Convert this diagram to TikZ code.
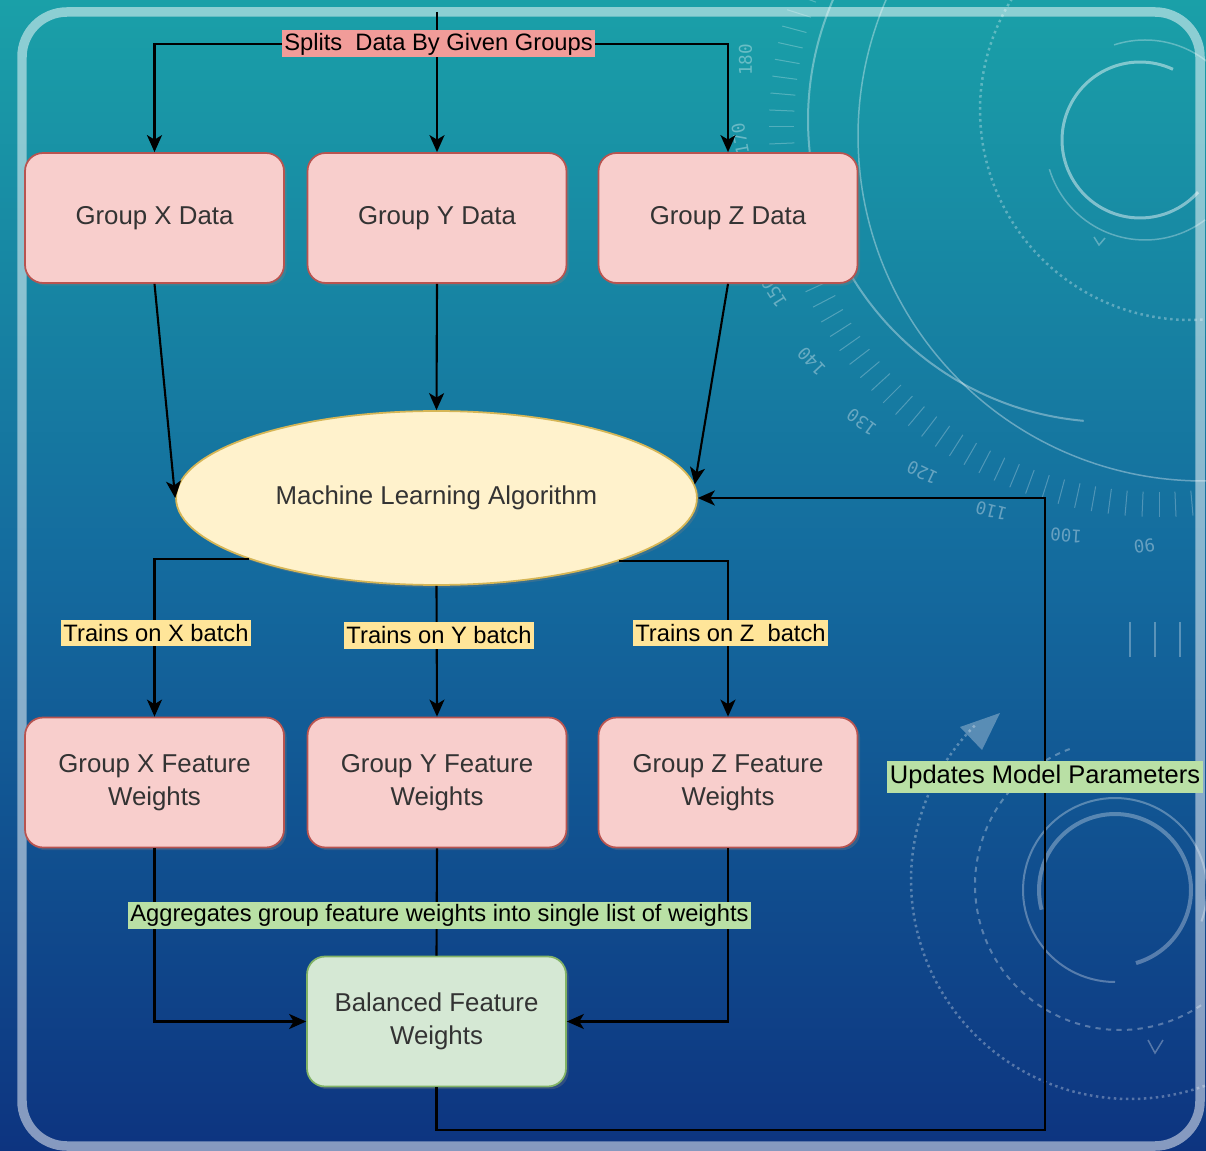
\documentclass[tikz,border=0pt]{standalone}
\usepackage{fontspec}
\setmainfont{Liberation Sans}
\newfontfamily\decofont{DejaVu Sans Mono}
\usetikzlibrary{arrows.meta,shapes.geometric,shadows}
\definecolor{pinkf}{HTML}{F8CECC}
\definecolor{pinkd}{HTML}{B85450}
\definecolor{yelf}{HTML}{FFF2CC}
\definecolor{yeld}{HTML}{D6B656}
\definecolor{grnf}{HTML}{D5E8D4}
\definecolor{grnd}{HTML}{82B366}
\definecolor{lblpink}{HTML}{F19C99}
\definecolor{lblyel}{HTML}{FFE599}
\definecolor{lblgrn}{HTML}{B9E0A5}
\definecolor{txt}{HTML}{333333}
\definecolor{bgtop}{RGB}{26,160,168}
\definecolor{bgmid}{RGB}{20,106,158}
\definecolor{bgbot}{RGB}{13,52,128}
\begin{document}
\begin{tikzpicture}[x=0.02cm,y=-0.02cm,
  box/.style={rounded corners=0.36cm, minimum width=5.18cm, minimum height=2.6cm, line width=1pt, align=center, text=txt, font=\fontsize{14.7}{18.8}\selectfont, drop shadow={opacity=0.3,shadow xshift=1.5pt,shadow yshift=-1.5pt}},
  pinkbox/.style={box, draw=pinkd, fill=pinkf},
  grnbox/.style={box, draw=grnd, fill=grnf},
  mlnode/.style={ellipse, draw=yeld, fill=yelf, line width=1pt, minimum width=10.42cm, minimum height=3.48cm, inner sep=0pt, text=txt, font=\fontsize{14.7}{18.8}\selectfont, drop shadow={opacity=0.3,shadow xshift=1.5pt,shadow yshift=-1.5pt}},
  arr/.style={draw=black, line width=1.2pt, -{Stealth[length=0.34cm,width=0.3cm,inset=0.09cm]}},
  ln/.style={draw=black, line width=1.2pt},
  lbl/.style={inner xsep=1.5pt, inner ysep=0pt, minimum height=0.54cm, text=black, font=\fontsize{13.5}{14}\selectfont},
  deco/.style={draw=white, opacity=0.3, line width=0.03cm},
  numlbl/.style={text=white, opacity=0.35, font=\decofont\fontsize{10}{10}\selectfont, inner sep=0pt}]
\useasboundingbox (0,0) rectangle (1206,1151);
\shade[top color=bgtop, bottom color=bgbot, middle color=bgmid] (0,0) rectangle (1206,1151);

% background decorations
\begin{scope}
\clip (0,0) rectangle (1206,1151);
% upper right
\draw[deco, line width=0.06cm, opacity=0.45] plot[domain=42:295, samples=80] ({1140+78*cos(\x)},{140+78*sin(\x)});
\draw[deco] plot[domain=252:310, samples=30] ({1145+100*cos(\x)},{140+100*sin(\x)});
\draw[deco] plot[domain=53:163, samples=40] ({1145+100*cos(\x)},{140+100*sin(\x)});
\draw[deco] (1094,237) -- (1099,245) -- (1105,238);
\draw[deco, line width=0.05cm, dotted, opacity=0.3] plot[domain=80:215, samples=80] ({1190+210*cos(\x)},{110+210*sin(\x)});
\draw[deco, opacity=0.35] plot[domain=85:205, samples=100] ({1203+345*cos(\x)},{136+345*sin(\x)});
\draw[deco, line width=0.04cm, opacity=0.35] plot[domain=95:210, samples=100] ({1110+302*cos(\x)},{120+302*sin(\x)});
\foreach \a in {80,82.5,...,200}
  \draw[deco, line width=0.02cm, opacity=0.25] ({1159+365*cos(\a)},{127+365*sin(\a)}) -- ({1159+390*cos(\a)},{127+390*sin(\a)});
\foreach \n in {90,100,110,120,130,140,150,170,180} {
  \pgfmathsetmacro\ang{92+(\n-90)*1.08}
  \pgfmathsetmacro\rot{-\ang-81}
  \node[numlbl, rotate=\rot] (num\n) at ({1159+419*cos(\ang)},{127+419*sin(\ang)}) {\n};
}
% lower right
\draw[deco, line width=0.04cm] plot[domain=90:380, samples=80] ({1115+92*cos(\x)},{890+92*sin(\x)});
\draw[deco, line width=0.08cm] plot[domain=165:434, samples=80] ({1115+76*cos(\x)},{890+76*sin(\x)});
\draw[deco, line width=0.04cm, dashed] plot[domain=56:250, samples=100] ({1120+145*cos(\x)},{885+145*sin(\x)});
\draw[deco, line width=0.05cm, dotted] plot[domain=70:225, samples=100] ({1130+219*cos(\x)},{880+219*sin(\x)});
\fill[white, opacity=0.3] (1000,713) -- (960,727) -- (982,750) -- cycle;
\draw[deco] (1148,1040) -- (1155,1053) -- (1163,1040);
\draw[deco, line width=0.04cm] (1130,622) -- (1130,657);
\draw[deco, line width=0.04cm] (1155,622) -- (1155,657);
\draw[deco, line width=0.04cm] (1180,622) -- (1180,657);
\end{scope}

% frame
\draw[white, opacity=0.5, line width=0.19cm, rounded corners=0.9cm] (22,12) rectangle (1200,1146);

% nodes
\node[pinkbox] (gx) at (154.5,218) {Group X Data};
\node[pinkbox] (gy) at (437,218) {Group Y Data};
\node[pinkbox] (gz) at (728,218) {Group Z Data};
\node[mlnode] (ml) at (436.5,498) {Machine Learning Algorithm};
\node[pinkbox] (fx) at (154.5,782.5) {Group X Feature\\Weights};
\node[pinkbox] (fy) at (437,782.5) {Group Y Feature\\Weights};
\node[pinkbox] (fz) at (728,782.5) {Group Z Feature\\Weights};
\node[grnbox] (bal) at (436.5,1021.5) {Balanced Feature\\Weights};

\coordinate (src) at (437,12);
\coordinate (split) at (437,44);
\coordinate (fb) at (1045,1130);

% connectors
\draw[arr] (src) -- (gy.north);
\draw[arr] (split) -| (gx.north);
\draw[arr] (split) -| (gz.north);
\draw[arr] (gx.south) -- (ml.west);
\draw[arr] (gy.south) -- (ml.north);
\draw[arr] (gz.south) -- (ml.3);
\draw[arr] (ml.198.74) -| (fx.north);
\draw[arr] (ml.south) -- (fy.north);
\draw[arr] (ml.341.26) -| (fz.north);
\draw[arr] (fx.south) |- (bal.west);
\draw[ln] (fy.south) -- (bal.north);
\draw[arr] (fz.south) |- (bal.east);
\draw[arr] (bal.south) |- (fb) |- (ml.east);

% labels
\node[lbl, fill=lblpink] (lsplit) at (438.5,44) {Splits\ \ Data By Given Groups};
\node[lbl, fill=lblyel] (ltx) at (156,633) {Trains on X batch};
\node[lbl, fill=lblyel] (lty) at (439,635.5) {Trains on Y batch};
\node[lbl, fill=lblyel] (ltz) at (730.5,633) {Trains on Z\ \ batch};
\node[lbl, fill=lblgrn] (lagg) at (439.5,915.5) {Aggregates group feature weights into single list of weights};
\node[lbl, fill=lblgrn, font=\fontsize{14.5}{15}\selectfont, minimum height=0.64cm] (lupd) at (1045,777) {Updates Model Parameters};
\end{tikzpicture}
\end{document}
